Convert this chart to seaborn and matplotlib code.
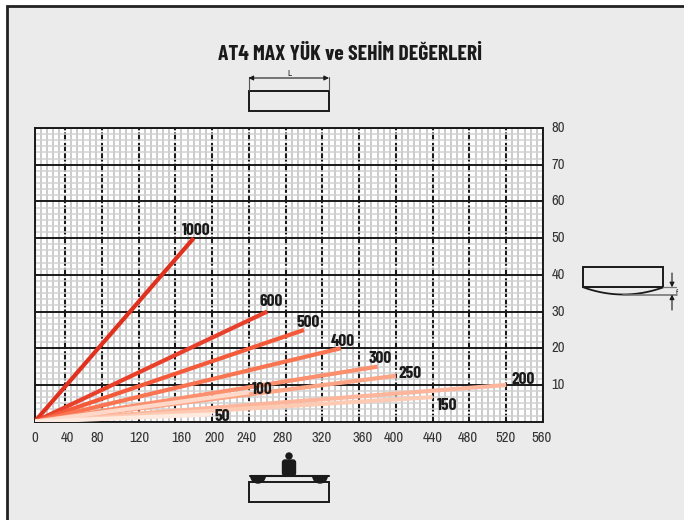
import numpy as np
import pandas as pd
import matplotlib
matplotlib.use("Agg")
import matplotlib.pyplot as plt
from matplotlib.patches import Rectangle, Circle, Wedge, FancyBboxPatch
from matplotlib.transforms import ScaledTranslation
import seaborn as sns

# values
loads = ["1000", "600", "500", "400", "300", "250", "200", "150", "100", "50"]
lengths = [180, 260, 300, 340, 380, 400, 520, 440, 240, 200]
deflections = [50, 30, 25, 20, 15, 12.5, 10, 6.7, 8, 2]
x_ticks = [0, 40, 80, 120, 160, 200, 240, 280, 320, 360, 400, 440, 480, 520, 560]
y_ticks = [10, 20, 30, 40, 50, 60, 70, 80]

colors = ["#e0301e", "#e8402a", "#f4593a", "#f97552", "#fb8f6e", "#fca586",
          "#fdb69c", "#fdcab4", "#fed8c8", "#feeadf"]
label_offsets = [(2, 8), (4, 10), (4, 7), (2, 7), (3, 8), (14, 2), (17, 5), (14, -8), (13, 3), (10, -2)]
xlabel_shifts = [0, 2, -5, 1, 6, 2, -2, -3, -1, 3, -2, 0, -2, -1, -2]

W, H = 684, 520
BG = "#ebebeb"
DARK = "#1a1a1a"
FONT = ["Archivo Narrow", "Barlow Condensed", "Liberation Sans", "DejaVu Sans"]
FONT_BOLD = ["Barlow Condensed", "Archivo Narrow", "Liberation Sans", "DejaVu Sans"]

sns.set_theme(style="white")
plt.rcParams["font.family"] = FONT

fig = plt.figure(figsize=(W / 100, H / 100), dpi=100, facecolor="white")

# page background and schematics live on a pixel-sized overlay
bg = fig.add_axes([0, 0, 1, 1], zorder=0)
bg.set_xlim(0, W)
bg.set_ylim(H, 0)
bg.axis("off")
bg.add_patch(Rectangle((7, 6), W, H, fc=BG, ec="#222222", lw=2))

ax = fig.add_axes([34.7 / W, (H - 421.7) / H, (543 - 34.7) / W, (421.7 - 128) / H], zorder=1)


def to_pos(v):
    return np.interp(v, [0, 40, 560], [0, 30.3, 508.3])


def from_pos(p):
    return np.interp(p, [0, 30.3, 508.3], [0, 40, 560])


ax.set_xscale("function", functions=(to_pos, from_pos))
ax.set_facecolor("white")

rows = []
for load, lx, ly in zip(loads, lengths, deflections):
    rows.append({"load": load, "L": 0, "f": 0})
    rows.append({"load": load, "L": lx, "f": ly})
df = pd.DataFrame(rows)

sns.lineplot(data=df, x="L", y="f", hue="load", hue_order=loads, palette=colors,
             legend=False, linewidth=3.0, ax=ax, zorder=4, solid_capstyle="butt", errorbar=None)

ax.set_xlim(0, 560)
ax.set_ylim(0, 80)
ax.set_xlabel("")
ax.set_ylabel("")

# fine grid
x_minor = sorted(set(np.linspace(0, 40, 6)[1:-1].tolist() + [t + i * 40 / 6 for t in x_ticks[1:-1] for i in range(1, 6)]))
y_minor = [t + i * 10 / 6 for t in [0] + y_ticks[:-1] for i in range(1, 6)]
ax.set_xticks(x_minor, minor=True)
ax.set_yticks(y_minor, minor=True)
ax.grid(True, which="minor", axis="x", color="#bdbdbd", lw=1.1, zorder=1)
ax.grid(True, which="minor", axis="y", color="#d2d2d2", lw=1.1, zorder=1)
ax.tick_params(which="minor", length=0)

# heavy grid
ax.set_xticks(x_ticks)
ax.set_yticks(y_ticks)
ax.grid(True, which="major", axis="y", color=DARK, lw=1.4, zorder=2)
ax.grid(True, which="major", axis="x", color=DARK, lw=1.5, ls=(0, (4, 1)), zorder=2)
ax.set_axisbelow(True)

ax.yaxis.tick_right()
ax.tick_params(which="major", length=0, labelsize=10.5, labelcolor="#333333", pad=7)
ax.tick_params(axis="y", pad=6)
ax.set_xticklabels([str(t) for t in x_ticks])
for lab, dx in zip(ax.get_xticklabels(), xlabel_shifts):
    lab.set_transform(lab.get_transform() + ScaledTranslation(dx / 100, 0, fig.dpi_scale_trans))
for lab in ax.get_yticklabels():
    lab.set_transform(lab.get_transform() + ScaledTranslation(0, 1.5 / 100, fig.dpi_scale_trans))

for s in ax.spines.values():
    s.set_visible(True)
    s.set_color(DARK)
    s.set_linewidth(1.4)

for load, lx, ly, off in zip(loads, lengths, deflections, label_offsets):
    ax.annotate(load, (lx, ly), xytext=(off[0] * 0.72, off[1] * 0.72), textcoords="offset points",
                ha="center", va="center", fontsize=12.5, fontweight="bold", family=FONT_BOLD,
                color=DARK, zorder=6)

bg.text(350.5, 55, "AT4 MAX YÜK ve SEHİM DEĞERLERİ", ha="center", va="center",
        fontsize=15.5, fontweight="bold", family=FONT_BOLD, color=DARK)

# top schematic, span L
bg.add_patch(Rectangle((248.5, 90.7), 80.5, 20.3, fc="none", ec=DARK, lw=1.4))
bg.plot([248.5, 248.5], [77, 90], color="#555555", lw=0.8)
bg.plot([329, 329], [77, 90], color="#555555", lw=0.8)
bg.annotate("", (248.5, 78), (329, 78), arrowprops=dict(arrowstyle="<|-|>", color=DARK, lw=0.8, mutation_scale=7, shrinkA=0, shrinkB=0))
bg.text(289, 73, "L", ha="center", va="center", fontsize=6.5, color=DARK)

# right schematic, deflection f
bg.add_patch(Rectangle((583.3, 267.3), 80, 20, fc="none", ec=DARK, lw=1.4))
arc_x = np.linspace(583.3, 663.3, 40)
bg.plot(arc_x, 287.3 + 7.2 * (1 - ((arc_x - 623.3) / 40) ** 2), color=DARK, lw=1.3)
bg.plot([663, 676], [287.3, 287.3], color="#777777", lw=0.9)
bg.plot([623, 676], [294.5, 294.5], color="#777777", lw=1.2)
bg.annotate("", (672, 287.3), (672, 273), arrowprops=dict(arrowstyle="-|>", color=DARK, lw=0.8, mutation_scale=7, shrinkA=0, shrinkB=0))
bg.annotate("", (672, 294.5), (672, 310), arrowprops=dict(arrowstyle="-|>", color=DARK, lw=0.8, mutation_scale=7, shrinkA=0, shrinkB=0))
bg.text(677, 293, "f", ha="center", va="center", fontsize=6.5, color="#444444")

# bottom schematic, weight on beam
bg.add_patch(Rectangle((249, 482.3), 80, 20, fc="none", ec=DARK, lw=1.4))
bg.plot([249.5, 328.5], [475.7, 475.7], color=DARK, lw=1.5)
bg.add_patch(Wedge((258, 475.7), 8, 0, 180, fc=DARK, ec="none"))
bg.add_patch(Wedge((320, 475.7), 8, 0, 180, fc=DARK, ec="none"))
bg.add_patch(FancyBboxPatch((282.5, 460), 13, 15.5, boxstyle="round,pad=0,rounding_size=2.5", fc=DARK, ec=DARK, lw=1))
bg.add_patch(Circle((289, 456), 3.7, fc=DARK, ec="none"))

fig.savefig("out.png", dpi=100, facecolor="white")
